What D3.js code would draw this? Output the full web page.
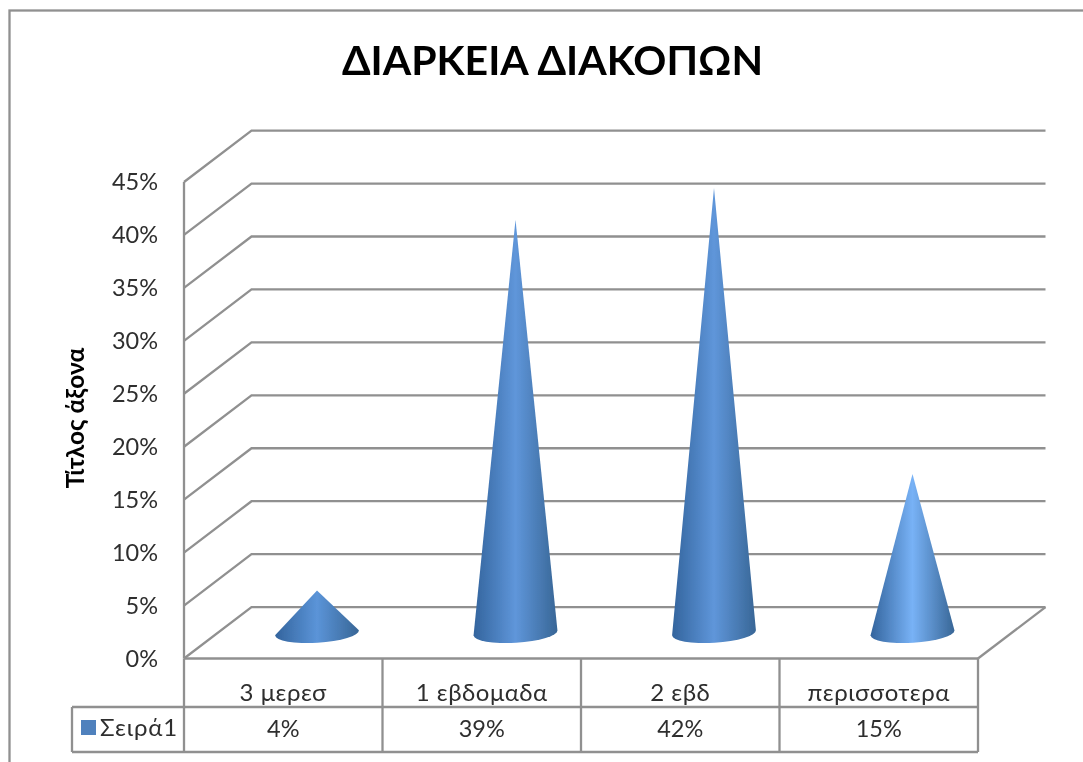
<!DOCTYPE html>
<html>
<head>
<meta charset="utf-8">
<script src="https://cdn.jsdelivr.net/npm/d3@7"></script>
<style>
  html, body { margin: 0; padding: 0; background: #fff; }
  svg { display: block; }
  text { font-family: "Lato", "Open Sans", sans-serif; fill: #2e2e2e; }
</style>
</head>
<body>
<div id="svg-area"></div>
<script>
// chart values
var chartTitle = "ΔΙΑΡΚΕΙΑ ΔΙΑΚΟΠΩΝ";
var axisTitle = "Τίτλος άξονα";
var seriesName = "Σειρά1";
var categories = ["3 μερεσ", "1 εβδομαδα", "2 εβδ", "περισσοτερα"];
var values = [0.04, 0.39, 0.42, 0.15];
var yTicks = [0, 0.05, 0.10, 0.15, 0.20, 0.25, 0.30, 0.35, 0.40, 0.45];
var coneCenterColors = ["#5b94d8", "#5f96da", "#5f96da", "#78b2f6"];

var svgWidth = 1083;
var svgHeight = 762;
var gridColor = "#909090";

var root = d3.select("#svg-area")
  .append("svg")
  .attr("width", svgWidth)
  .attr("height", svgHeight);

// the source picture is a slightly soft screenshot
root.append("defs")
  .append("filter")
  .attr("id", "soft")
  .attr("filterUnits", "userSpaceOnUse")
  .attr("x", 0).attr("y", 0)
  .attr("width", svgWidth).attr("height", svgHeight)
  .append("feGaussianBlur")
  .attr("stdDeviation", 0.55);

root.append("rect")
  .attr("width", svgWidth).attr("height", svgHeight)
  .attr("fill", "#fff");

var svg = root.append("g").attr("filter", "url(#soft)");

var xScale = d3.scaleBand()
  .domain(categories)
  .range([184, 978]);

var yScale = d3.scaleLinear()
  .domain([0, 0.45])
  .range([658.5, 182]);

var pct = d3.format(".0%");

// the back wall is the front plane moved by this depth
var depthX = 67.5;
var depthY = -51.4;
var floorY = yScale(0);
var frontLeft = xScale.range()[0];
var frontRight = xScale.range()[1];

function line(x1, y1, x2, y2) {
  svg.append("line")
    .attr("x1", x1).attr("y1", y1)
    .attr("x2", x2).attr("y2", y2)
    .attr("stroke", gridColor)
    .attr("stroke-width", 2.3);
}

// chart frame, runs off the right and bottom of the image
svg.append("rect")
  .attr("x", 9.5).attr("y", 10.5)
  .attr("width", svgWidth).attr("height", svgHeight)
  .attr("fill", "none")
  .attr("stroke", gridColor)
  .attr("stroke-width", 2.3);

svg.append("text")
  .attr("x", 552.5).attr("y", 75)
  .attr("text-anchor", "middle")
  .attr("font-size", 41)
  .attr("font-weight", 700)
  .style("fill", "#000")
  .text(chartTitle);

// gridlines on side wall and back wall
yTicks.forEach(function(t) {
  var y = yScale(t);
  svg.append("path")
    .attr("fill", "none")
    .attr("stroke", gridColor)
    .attr("stroke-width", 2.3)
    .attr("d", d3.line()([[frontLeft, y], [frontLeft + depthX, y + depthY], [frontRight + depthX, y + depthY]]));
});

// floor edges
line(frontLeft, floorY, frontRight, floorY);
line(frontRight, floorY, frontRight + depthX, floorY + depthY);
line(frontLeft, yScale(0.45), frontLeft, floorY);

svg.selectAll(".ytick")
  .data(yTicks)
  .enter()
  .append("text")
  .attr("class", "ytick")
  .attr("x", 158)
  .attr("y", d => yScale(d) + 8)
  .attr("text-anchor", "end")
  .attr("font-size", 23.5)
  .text(d => pct(d));

svg.append("text")
  .attr("transform", "translate(84,418) rotate(-90)")
  .attr("text-anchor", "middle")
  .attr("font-size", 24.5)
  .attr("font-weight", 700)
  .style("fill", "#000")
  .text(axisTitle);

// one horizontal gradient per cone
var defs = root.select("defs");
categories.forEach(function(c, i) {
  var grad = defs.append("linearGradient")
    .attr("id", "cone" + i);
  grad.append("stop").attr("offset", "0%").attr("stop-color", "#33649d");
  grad.append("stop").attr("offset", "50%").attr("stop-color", coneCenterColors[i]);
  grad.append("stop").attr("offset", "100%").attr("stop-color", "#386696");
});

// cones stand in the middle of the floor depth
var coneRx = 42;
var coneRy = 10;
var coneTilt = -3.5 * Math.PI / 180;

svg.selectAll(".cone")
  .data(values)
  .enter()
  .append("path")
  .attr("class", "cone")
  .attr("fill", (d, i) => "url(#cone" + i + ")")
  .attr("d", function(d, i) {
    var cx = xScale(categories[i]) + xScale.bandwidth() / 2 + depthX / 2;
    var cy = floorY + depthY / 2;
    var tipY = yScale(d) + depthY / 2;
    var dx = coneRx * Math.cos(coneTilt);
    var dy = coneRx * Math.sin(coneTilt);
    return "M" + (cx - dx) + "," + (cy - dy)
      + "L" + cx + "," + tipY
      + "L" + (cx + dx) + "," + (cy + dy)
      + "A" + coneRx + "," + coneRy + " -3.5 0 1 " + (cx - dx) + "," + (cy - dy) + "Z";
  });

// data table below the floor
var rowTop = 707;
var rowBottom = 752;
var legendLeft = 72;

line(legendLeft, rowTop, frontRight, rowTop);
line(legendLeft, rowBottom, frontRight, rowBottom);
line(legendLeft, rowTop, legendLeft, rowBottom);
line(frontLeft, floorY, frontLeft, rowBottom);
categories.forEach(function(c) {
  var x = xScale(c) + xScale.bandwidth();
  line(x, floorY, x, rowBottom);
});

svg.selectAll(".cat")
  .data(categories)
  .enter()
  .append("text")
  .attr("class", "cat")
  .attr("x", d => xScale(d) + xScale.bandwidth() / 2)
  .attr("y", 701)
  .attr("text-anchor", "middle")
  .attr("font-size", 24)
  .attr("letter-spacing", 0.5)
  .text(d => d);

svg.selectAll(".val")
  .data(values)
  .enter()
  .append("text")
  .attr("class", "val")
  .attr("x", (d, i) => xScale(categories[i]) + xScale.bandwidth() / 2)
  .attr("y", 737)
  .attr("text-anchor", "middle")
  .attr("font-size", 23.5)
  .text(d => pct(d));

svg.append("rect")
  .attr("x", 81).attr("y", 720)
  .attr("width", 15).attr("height", 15)
  .attr("fill", "#4f81bd");

svg.append("text")
  .attr("x", 100).attr("y", 736)
  .attr("font-size", 24)
  .attr("letter-spacing", 0.8)
  .text(seriesName);
</script>
</body>
</html>
